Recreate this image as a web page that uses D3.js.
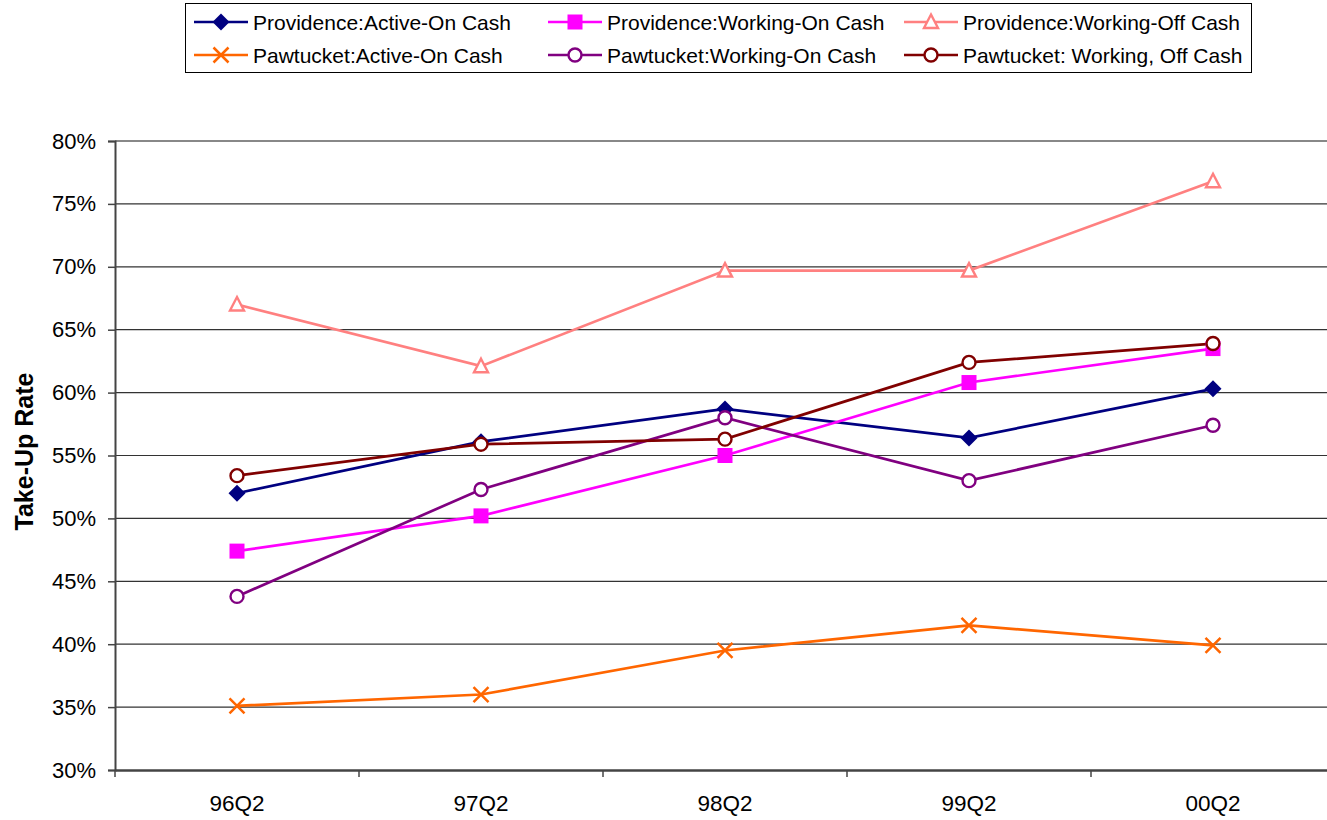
<!DOCTYPE html>
<html><head><meta charset="utf-8">
<script src="https://cdn.jsdelivr.net/npm/d3@7"></script>
<style>body{margin:0;background:#fff}svg{display:block}text{font-family:"Liberation Sans",Arial,sans-serif}</style>
</head><body><svg id="c" width="1327" height="820"></svg>
<script>
const categories = ["96Q2","97Q2","98Q2","99Q2","00Q2"];
const yTicks = [30,35,40,45,50,55,60,65,70,75,80];
const seriesNames = ["Providence:Active-On Cash","Providence:Working-On Cash","Providence:Working-Off Cash","Pawtucket:Active-On Cash","Pawtucket:Working-On Cash","Pawtucket: Working, Off Cash"];
const provActiveOn = [52.0,56.1,58.7,56.4,60.3];
const provWorkingOn = [47.4,50.2,55.0,60.8,63.5];
const provWorkingOff = [67.0,62.1,69.7,69.7,76.8];
const pawActiveOn = [35.1,36.0,39.5,41.5,39.9];
const pawWorkingOn = [43.8,52.3,58.0,53.0,57.4];
const pawWorkingOff = [53.4,55.9,56.3,62.4,63.9];
const seriesValues = [provActiveOn,provWorkingOn,provWorkingOff,pawActiveOn,pawWorkingOn,pawWorkingOff];
const colors = ["#000080","#FF00FF","#FF8080","#FF6600","#800080","#800000"];
const markers = ["diamond","square","triangle","x","circle","circle"];

const svg = d3.select("#c");
const L=115, R=1335, T=141, B=770;
const x = d3.scaleBand().domain(categories).range([L,R]);
const y = d3.scaleLinear().domain([30,80]).range([B,T]);
const FONT = "Liberation Sans, Arial, sans-serif";

// gridlines
svg.append("g").selectAll("line").data(yTicks.filter(v=>v>30&&v<80)).join("line")
  .attr("x1",L).attr("x2",R).attr("y1",d=>y(d)).attr("y2",d=>y(d))
  .attr("stroke","#333").attr("stroke-width",1.2);
// top border
svg.append("line").attr("x1",L).attr("x2",R).attr("y1",y(80)).attr("y2",y(80)).attr("stroke","#888").attr("stroke-width",2);

// y axis
const ya = svg.append("g").attr("transform",`translate(${L},0)`)
  .call(d3.axisLeft(y).tickValues(yTicks).tickFormat(d=>d+"%").tickSize(7).tickPadding(12));
ya.select(".domain").attr("stroke","#444").attr("stroke-width",2);
ya.selectAll(".tick line").attr("stroke","#444").attr("stroke-width",1.5);
ya.selectAll("text").attr("font-size",22).attr("fill","#000").style("font-family",FONT);

// x axis
const xa = svg.append("g").attr("transform",`translate(0,${B})`)
  .call(d3.axisBottom(x).tickSize(0).tickPadding(22));
xa.select(".domain").attr("stroke","#444").attr("stroke-width",2.5);
xa.selectAll("text").attr("font-size",22.5).attr("fill","#000").attr("dy",null).attr("y",41).style("font-family",FONT);
svg.append("g").selectAll("line").data(d3.range(categories.length+1)).join("line")
  .attr("x1",i=>L+i*x.step()).attr("x2",i=>L+i*x.step()).attr("y1",B).attr("y2",B+7)
  .attr("stroke","#444").attr("stroke-width",1.5);

svg.append("text").attr("transform",`translate(33,${(T+B)/2-4}) rotate(-90)`)
  .attr("text-anchor","middle").attr("font-size",25).attr("font-weight","bold").text("Take-Up Rate");

function drawMarker(g,type,color){
  if(type==="diamond") g.append("path").attr("d","M0,-8.5L8.5,0L0,8.5L-8.5,0Z").attr("fill",color);
  else if(type==="square") g.append("rect").attr("x",-7.5).attr("y",-7.5).attr("width",15).attr("height",15).attr("fill",color);
  else if(type==="triangle") g.append("path").attr("d","M0,-7.5L7,6L-7,6Z").attr("fill","#fff").attr("stroke",color).attr("stroke-width",2.4);
  else if(type==="x") g.append("path").attr("d","M-7.5,-7.5L7.5,7.5M-7.5,7.5L7.5,-7.5").attr("stroke",color).attr("stroke-width",2.5);
  else if(type==="circle") g.append("circle").attr("r",6.5).attr("fill","#fff").attr("stroke",color).attr("stroke-width",2.4);
}

const line = d3.line().x((d,i)=>x(categories[i])+x.bandwidth()/2).y(d=>y(d));
seriesValues.forEach((vals,s)=>{
  svg.append("path").datum(vals).attr("d",line).attr("fill","none").attr("stroke",colors[s]).attr("stroke-width",2.7);
});
seriesValues.forEach((vals,s)=>{
  vals.forEach((v,i)=>{
    const g = svg.append("g").attr("transform",`translate(${x(categories[i])+x.bandwidth()/2},${y(v)})`);
    drawMarker(g,markers[s],colors[s]);
  });
});

// legend
svg.append("rect").attr("x",185.5).attr("y",3.5).attr("width",1066).attr("height",69).attr("fill","#fff").attr("stroke","#000").attr("stroke-width",1);
const colX=[194,548,904], rowY=[22,55];
seriesNames.forEach((n,s)=>{
  const cx=colX[s%3], cy=rowY[Math.floor(s/3)];
  svg.append("line").attr("x1",cx).attr("x2",cx+54).attr("y1",cy).attr("y2",cy).attr("stroke",colors[s]).attr("stroke-width",2.7);
  const g=svg.append("g").attr("transform",`translate(${cx+27},${cy})`);
  drawMarker(g,markers[s],colors[s]);
  svg.append("text").attr("x",cx+59).attr("y",cy+7.5).attr("font-size",21).text(n);
});
</script></body></html>
